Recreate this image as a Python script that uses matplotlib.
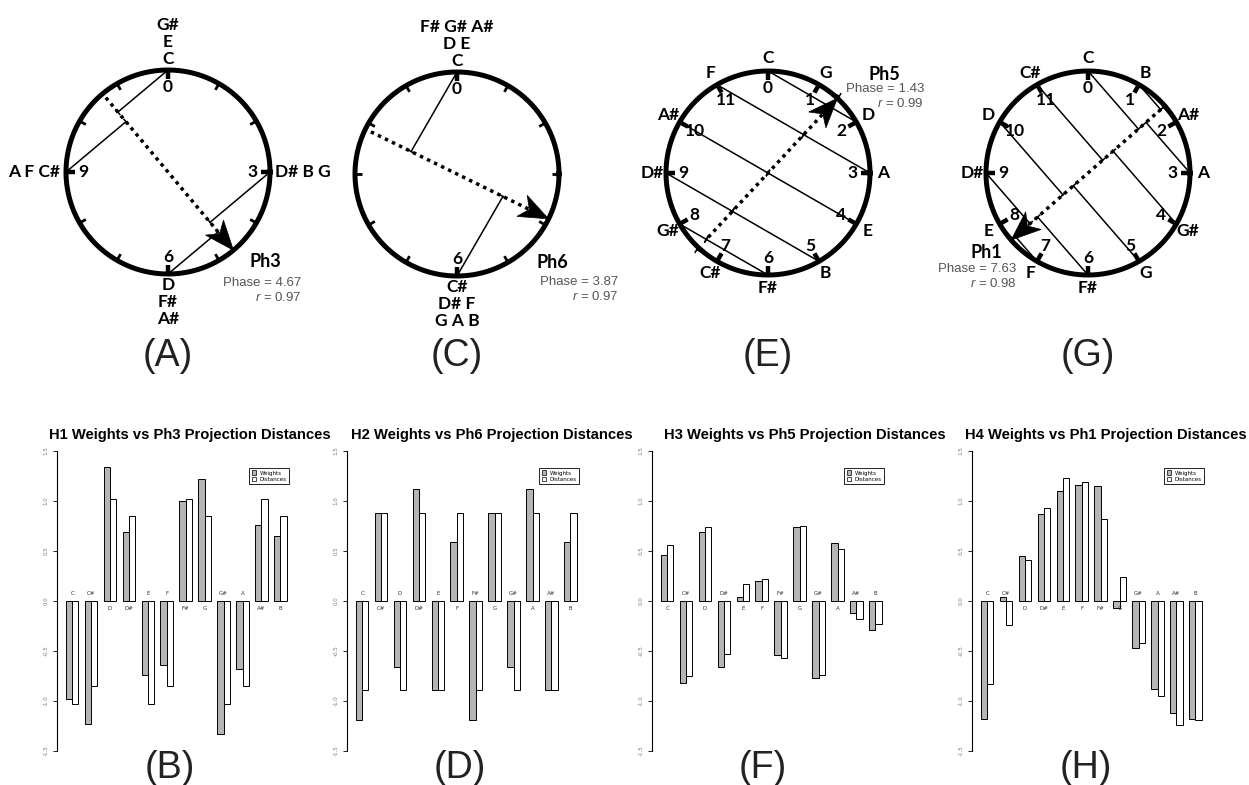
import numpy as np
import matplotlib
matplotlib.use("Agg")
import matplotlib.pyplot as plt
from matplotlib.patches import Polygon, Patch

plt.rcParams['mathtext.fontset'] = 'custom'
plt.rcParams['mathtext.it'] = 'Liberation Sans:italic'
plt.rcParams['mathtext.rm'] = 'Liberation Sans'

# ---- data ----
notes = ["C", "C#", "D", "D#", "E", "F", "F#", "G", "G#", "A", "A#", "B"]

# circle panels (A, C, E, G)
ph_names = ["Ph3", "Ph6", "Ph5", "Ph1"]
phases = [4.67, 3.87, 1.43, 7.63]
r_vals = [0.97, 0.97, 0.99, 0.98]
proj_deg = [140, 120, 30, 229]       # direction the projection lines are drawn against
labels_A = {0: ["C", "E", "G#"], 3: ["D# B G"], 6: ["D", "F#", "A#"], 9: ["A F C#"]}
labels_C = {0: ["C", "D E", "F# G# A#"], 6: ["C#", "D# F", "G A B"]}
labels_E = ["C", "G", "D", "A", "E", "B", "F#", "C#", "G#", "D#", "A#", "F"]
labels_G = ["C", "B", "A#", "A", "G#", "G", "F#", "F", "E", "D#", "D", "C#"]
numbers_A = [0, 3, 6, 9]
numbers_C = [0, 6]
numbers_EG = list(range(12))

# bar panels (B, D, F, H)
titles = ["H1 Weights vs Ph3 Projection Distances",
          "H2 Weights vs Ph6 Projection Distances",
          "H3 Weights vs Ph5 Projection Distances",
          "H4 Weights vs Ph1 Projection Distances"]
w1 = [-0.98, -1.23, 1.34, 0.69, -0.74, -0.64, 1.00, 1.22, -1.33, -0.68, 0.76, 0.65]
d1 = [-1.03, -0.85, 1.02, 0.85, -1.03, -0.85, 1.02, 0.85, -1.03, -0.85, 1.02, 0.85]
w2 = [-1.19, 0.88, -0.66, 1.12, -0.89, 0.59, -1.19, 0.88, -0.66, 1.12, -0.89, 0.59]
d2 = [-0.89, 0.88, -0.89, 0.88, -0.89, 0.88, -0.89, 0.88, -0.89, 0.88, -0.89, 0.88]
w3 = [0.46, -0.82, 0.69, -0.66, 0.04, 0.20, -0.54, 0.74, -0.77, 0.58, -0.12, -0.29]
d3 = [0.56, -0.75, 0.74, -0.53, 0.17, 0.22, -0.57, 0.75, -0.74, 0.52, -0.18, -0.23]
w4 = [-1.18, 0.04, 0.45, 0.87, 1.10, 1.16, 1.15, -0.07, -0.47, -0.88, -1.12, -1.18]
d4 = [-0.83, -0.24, 0.41, 0.93, 1.23, 1.19, 0.82, 0.24, -0.42, -0.95, -1.24, -1.19]
yticks = [-1.5, -1.0, -0.5, 0.0, 0.5, 1.0, 1.5]

W, H = 1249, 785
fig = plt.figure(figsize=(W / 100, H / 100), dpi=100)


def px_axes(x0, y0, x1, y1):
    return fig.add_axes([x0 / W, 1 - y1 / H, (x1 - x0) / W, (y1 - y0) / H])


BOLD = dict(family="Lato", weight="bold")
R_PX = 102


def draw_circle(cx, cy, i, labels, numbers, dot_start, name_xy, stat_xy):
    half = 160
    ax = px_axes(cx - half, cy - half, cx + half, cy + half)
    lim = half / R_PX
    ax.set_xlim(-lim, lim)
    ax.set_ylim(-lim, lim)
    ax.set_aspect("equal")
    ax.axis("off")

    t = np.linspace(0, 2 * np.pi, 400)
    ax.plot(np.cos(t), np.sin(t), color="black", lw=3.6, zorder=3)

    if isinstance(labels, dict):
        note_pos = sorted(labels.keys())
    else:
        note_pos = list(range(12))

    # ticks
    for n in range(12):
        a = np.deg2rad(30 * n)
        s, c = np.sin(a), np.cos(a)
        inner = 0.91 if n in note_pos else 0.93
        ax.plot([s, inner * s], [c, inner * c], color="black",
                lw=3.2 if n in note_pos else 2.0, solid_capstyle="butt", zorder=3)

    phi = np.deg2rad(phases[i] * 30)
    u = np.array([np.sin(phi), np.cos(phi)])
    nperp = np.array([np.cos(phi), -np.sin(phi)])
    psi = np.deg2rad(proj_deg[i])
    wdir = np.array([np.sin(psi), np.cos(psi)])
    v = np.array([np.cos(psi), -np.sin(psi)])

    # projection lines
    for n in note_pos:
        a = np.deg2rad(30 * n)
        P = np.array([np.sin(a), np.cos(a)])
        tt, ss = np.linalg.solve(np.column_stack([u, -v]), P)
        F = tt * u
        ax.plot([P[0], F[0]], [P[1], F[1]], color="black", lw=1.1, zorder=2)
        c1, c2 = F + 0.03 * wdir, F - 0.03 * wdir
        ax.plot([c1[0], c2[0]], [c1[1], c2[1]], color="black", lw=1.1, zorder=2)

    # phase arrow
    L, hw, notch = 0.29, 0.115, 0.08
    tip = 1.0 * u
    back = tip - (L - notch) * u
    start = -dot_start * u
    ax.plot([start[0], back[0]], [start[1], back[1]], color="black", lw=2.5,
            linestyle=(0, (1, 1.25)), zorder=2)
    poly = [tip, tip - L * u + hw * nperp, back, tip - L * u - hw * nperp]
    ax.add_patch(Polygon(poly, closed=True, facecolor="black", edgecolor="black",
                         lw=0.5, zorder=4))

    # note labels
    if isinstance(labels, dict):
        for n, rows in labels.items():
            for k, row in enumerate(rows):
                if n == 0:
                    ax.text(0, 1.11 + 0.165 * k, row, ha="center", va="center",
                            fontsize=12.5, **BOLD)
                elif n == 6:
                    ax.text(0, -1.11 - 0.165 * k, row, ha="center", va="center",
                            fontsize=12.5, **BOLD)
                elif n == 3:
                    ax.text(1.05, 0, row, ha="left", va="center", fontsize=12.5, **BOLD)
                else:
                    ax.text(-1.06, 0, row, ha="right", va="center", fontsize=12.5, **BOLD)
    else:
        for n, lab in enumerate(labels):
            a = np.deg2rad(30 * n)
            ax.text(1.13 * np.sin(a), 1.13 * np.cos(a), lab, ha="center",
                    va="center", fontsize=12.5, **BOLD)

    for n in numbers:
        a = np.deg2rad(30 * n)
        ax.text(0.83 * np.sin(a), 0.83 * np.cos(a), str(n), ha="center",
                va="center", fontsize=12.5, **BOLD)

    ax.text(name_xy[0], name_xy[1], ph_names[i], ha="left", va="center",
            fontsize=13, **BOLD)
    ax.text(stat_xy[0], stat_xy[1], "Phase = %.2f" % phases[i], ha="right",
            va="center", fontsize=9.5, family="Liberation Sans", color="#555555")
    ax.text(stat_xy[0], stat_xy[1] - 0.14, "$r$ = %.2f" % r_vals[i], ha="right",
            va="center", fontsize=9.5, family="Liberation Sans", color="#555555")


draw_circle(168, 172, 0, labels_A, numbers_A, 0.95, (0.80, -0.88), (1.31, -1.09))
draw_circle(457, 174, 1, labels_C, numbers_C, 0.94, (0.78, -0.87), (1.58, -1.06))
draw_circle(768, 173, 2, labels_E, numbers_EG, 0.86, (0.99, 0.97), (1.53, 0.82))
draw_circle(1088, 173, 3, labels_G, numbers_EG, 0.95, (-1.15, -0.78), (-0.70, -0.94))

for x, lab in zip([168, 457, 768, 1088], ["(A)", "(C)", "(E)", "(G)"]):
    fig.text(x / W, 1 - 366 / H, lab, ha="center", va="baseline", fontsize=27,
             family="Liberation Sans", color="#222222")

# ---- bar panels ----
weights = [w1, w2, w3, w4]
dists = [d1, d2, d3, d4]
ax_left = [57, 347, 652, 972]
title_x = [190, 492, 805, 1106]
letter_x = [170, 460, 763, 1086]
gx = np.arange(12) * 3

for j in range(4):
    ax = px_axes(ax_left[j], 439, ax_left[j] + 238.5, 763)
    ax.bar(gx + 1.5, weights[j], width=1, color="#b5b5b5", edgecolor="black", lw=0.7)
    ax.bar(gx + 2.5, dists[j], width=1, color="white", edgecolor="black", lw=0.7)
    ax.set_xlim(-0.4, 37.4)
    ax.set_ylim(-1.62, 1.62)
    for s in ["top", "right", "bottom"]:
        ax.spines[s].set_visible(False)
    ax.spines["left"].set_bounds(-1.5, 1.5)
    ax.spines["left"].set_linewidth(0.8)
    ax.set_xticks([])
    ax.set_yticks(yticks)
    ax.set_yticklabels(["%.1f" % y for y in yticks], rotation=90, va="center",
                       fontsize=4, color="#777777")
    ax.tick_params(axis="y", length=3, width=0.6, pad=3)
    ax.patch.set_visible(False)
    for k in range(12):
        if dists[j][k] > 0:
            ax.text(gx[k] + 2, -0.05, notes[k], ha="center", va="top", fontsize=4,
                    color="#333333")
        else:
            ax.text(gx[k] + 2, 0.05, notes[k], ha="center", va="bottom", fontsize=4,
                    color="#333333")
    handles = [Patch(facecolor="#b5b5b5", edgecolor="black", lw=0.5, label="Weights"),
               Patch(facecolor="white", edgecolor="black", lw=0.5, label="Distances")]
    leg = ax.legend(handles=handles, loc="upper right", bbox_to_anchor=(0.985, 0.92),
                    fontsize=4, fancybox=False, edgecolor="black", framealpha=1,
                    handlelength=0.8, handleheight=0.8, borderpad=0.5,
                    handletextpad=0.6, labelspacing=0.2)
    leg.get_frame().set_linewidth(0.6)
    fig.text(title_x[j] / W, 1 - 435 / H, titles[j], ha="center", va="center",
             fontsize=10.6, weight="bold", family="Liberation Sans")
    fig.text(letter_x[j] / W, 1 - 778 / H, "(" + "BDFH"[j] + ")", ha="center",
             va="baseline", fontsize=27, family="Liberation Sans", color="#222222")

fig.savefig("out.png", dpi=100)
